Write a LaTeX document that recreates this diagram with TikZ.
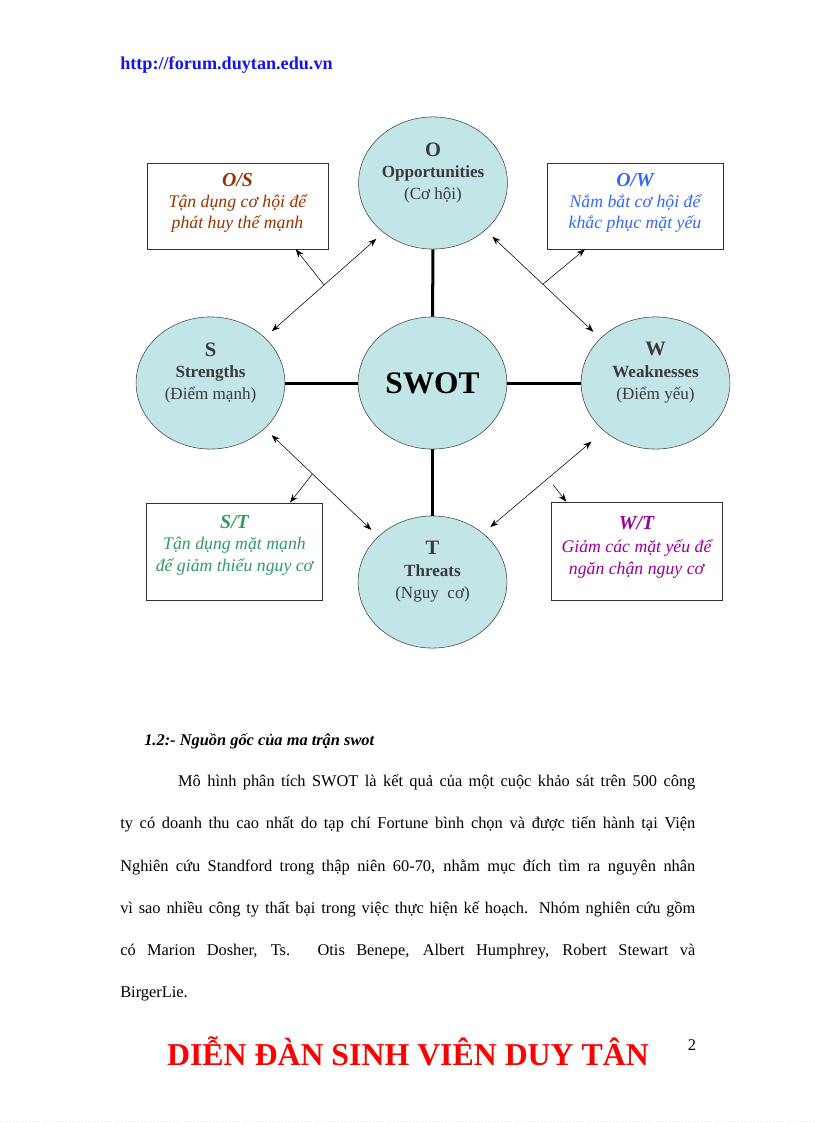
\documentclass[tikz,border=0pt]{standalone}
\usepackage{fontspec}
\setmainfont{Liberation Serif}
\usetikzlibrary{arrows.meta, shapes.geometric, positioning}

\definecolor{swotfill}{RGB}{194,230,232}
\definecolor{swottext}{RGB}{58,58,58}
\definecolor{osbrown}{RGB}{153,51,0}
\definecolor{owblue}{RGB}{51,102,255}
\definecolor{stgreen}{RGB}{51,153,102}
\definecolor{wtpurple}{RGB}{153,0,153}
\definecolor{urlblue}{RGB}{20,20,240}

\begin{document}
\begin{tikzpicture}
  [x=0.25735mm, y=-0.25735mm,
   factor/.style={ellipse, minimum width=38.3mm, minimum height=34mm,
                  inner sep=0pt, draw=black!75, fill=swotfill},
   factortext/.style={align=center, text=swottext, yshift=2.6mm,
                      font=\fontsize{12.5}{16}\selectfont},
   strategy/.style={rectangle, draw=black!80, semithick, inner sep=0pt},
   strategytext/.style={align=center,
                        font=\fontsize{13}{15.5}\selectfont\itshape},
   spoke/.style={line width=2.2pt},
   duo/.style={<->,>={Stealth[length=6pt,width=4.5pt]},thin,
               shorten <=7pt,shorten >=7pt},
   post/.style={->,>={Stealth[length=6pt,width=4.5pt]},thin}]

  \useasboundingbox (0,0) rectangle (816,1123);

  % Tieu de trang
  \node (url) at (120,70) [anchor=base west, inner sep=0pt, text=urlblue,
      font=\fontsize{13.3}{15}\selectfont\bfseries] {http://forum.duytan.edu.vn};

  % Cac yeu to
  \node (opp) at (433,183) [factor] {};
  \node (str) at (210.5,383) [factor] {};
  \node (swot) at (432.5,383) [factor, font=\fontsize{23}{26}\selectfont\bfseries] {SWOT};
  \node (weak) at (655.5,383) [factor] {};
  \node (thr) at (432.5,582) [factor] {};

  \node (opptext) at (opp.center) [factortext]
      {{\fontsize{15}{16}\selectfont\bfseries O}\\ {\bfseries Opportunities}\\ (Cơ hội)};
  \node (strtext) at (str.center) [factortext]
      {{\fontsize{15}{16}\selectfont\bfseries S}\\ {\bfseries Strengths}\\ (Điểm mạnh)};
  \node (weaktext) at (weak.center) [factortext]
      {{\fontsize{15}{16}\selectfont\bfseries W}\\ {\bfseries Weaknesses}\\ (Điểm yếu)};
  \node (thrtext) at (thr.center) [factortext]
      {{\fontsize{15}{16}\selectfont\bfseries T}\\ {\bfseries Threats}\\ (Nguy\ \ cơ)};

  % Truc chinh
  \draw [spoke] (opp) -- (swot);
  \draw [spoke] (swot) -- (thr);
  \draw [spoke] (str) -- (swot);
  \draw [spoke] (swot) -- (weak);

  % Chien luoc
  \node (osbox) at (237.5,206) [strategy, minimum width=46.6mm, minimum height=22.1mm] {};
  \node (ostext) at ([yshift=0.8mm]osbox.center) [strategytext, text=osbrown]
      {{\fontsize{14.5}{16}\selectfont\bfseries O/S}\\ Tận dụng cơ hội để\\ phát huy thế mạnh};
  \node (owbox) at (635,206) [strategy, minimum width=45.3mm, minimum height=22.1mm] {};
  \node (owtext) at ([yshift=0.8mm]owbox.center) [strategytext, text=owblue]
      {{\fontsize{14.5}{16}\selectfont\bfseries O/W}\\ Nắm bắt cơ hội để\\ khắc phục mặt yếu};
  \node (stbox) at (234.5,551.5) [strategy, minimum width=45.5mm, minimum height=25mm] {};
  \node (sttext) at ([yshift=1.6mm]stbox.center) [strategytext, text=stgreen]
      {{\fontsize{14.5}{16}\selectfont\bfseries S/T}\\ Tận dụng mặt mạnh\\ để giảm thiểu nguy cơ};
  \node (wtbox) at (636.5,551) [strategy, minimum width=44mm, minimum height=25.2mm] {};
  \node (wttext) at ([yshift=0.9mm]wtbox.center) [strategytext, text=wtpurple,
      font=\fontsize{13}{16.5}\selectfont\itshape]
      {{\fontsize{14.5}{16}\selectfont\bfseries W/T}\\ Giảm các mặt yếu để\\ ngăn chận nguy cơ};

  % Mui ten
  \draw [duo] (opp.225) -- coordinate[pos=.5] (osfork) (str.40);
  \draw [post] (osfork) -- ([xshift=15mm]osbox.south);
  \draw [duo] (opp.318) -- coordinate[pos=.5] (owfork) (weak.141);
  \draw [post] (owfork) -- ([xshift=-12.9mm]owbox.south);
  \draw [duo] (str.320) -- coordinate[pos=.42] (stfork) (thr.140);
  \draw [post] (stfork) -- ([xshift=14.3mm]stbox.north);
  \draw [duo, shorten <=12pt] (weak.223) -- coordinate[pos=.42] (wtfork) (thr.44);
  \draw [post] ([yshift=-2.8mm]wtfork) -- ([xshift=-18.1mm]wtbox.north);

  % Van ban
  \node (heading) at (144,745) [anchor=base west, inner sep=0pt,
      font=\fontsize{12}{14}\selectfont\bfseries\itshape] {1.2:- Nguồn gốc của ma trận swot};
  \node (para) at (120,786.7) [anchor=base west, inner sep=0pt, text width=148mm,
      align=justify, font=\fontsize{12}{30.9}\selectfont]
      {\hspace*{14.9mm}Mô hình phân tích SWOT là kết quả của một cuộc khảo sát trên 500 công\linebreak
       ty có doanh thu cao nhất do tạp chí Fortune bình chọn và được tiến hành tại Viện\linebreak
       Nghiên cứu Standford trong thập niên 60-70, nhằm mục đích tìm ra nguyên nhân\linebreak
       vì sao nhiều công ty thất bại trong việc thực hiện kế hoạch. Nhóm nghiên cứu gồm\linebreak
       có Marion Dosher, Ts. Otis Benepe, Albert Humphrey, Robert Stewart và\linebreak
       BirgerLie.};

  % Chan trang
  \node (banner) at (408,1065) [anchor=base, inner sep=0pt, text=red,
      font=\fontsize{23.3}{26}\selectfont\bfseries] {DIỄN ĐÀN SINH VIÊN DUY TÂN};
  \node (pagenum) at (692,1050) [anchor=base, inner sep=0pt,
      font=\fontsize{12}{14}\selectfont] {2};
  \draw [dotted, red!15] (0,1121) -- (816,1121);

\end{tikzpicture}
\end{document}
